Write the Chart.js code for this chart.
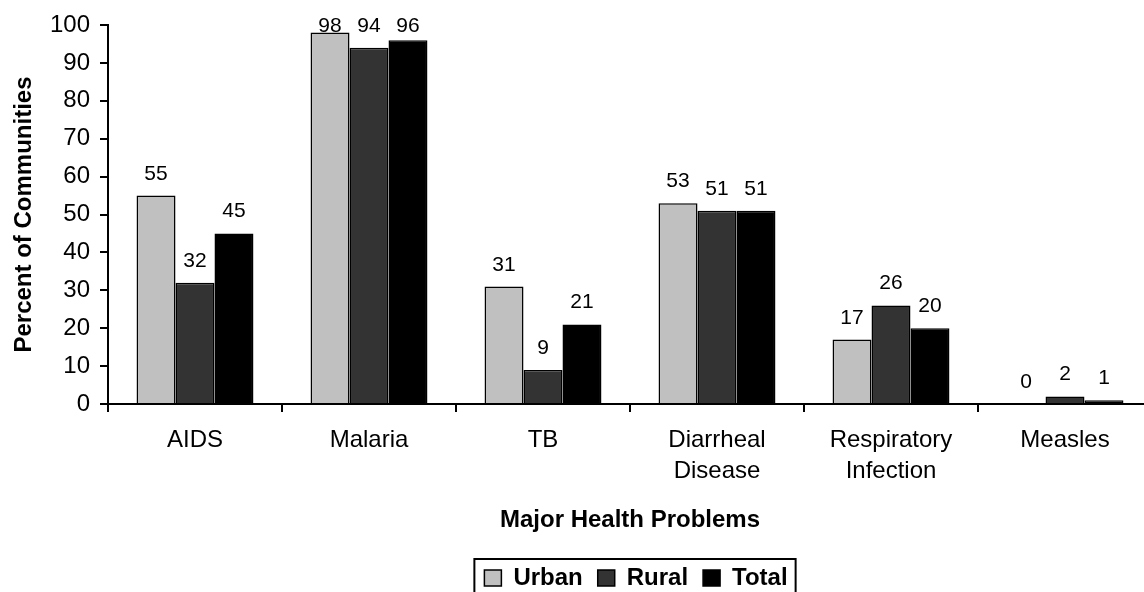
<!DOCTYPE html>
<html>
<head>
<meta charset="utf-8">
<script src="https://cdn.jsdelivr.net/npm/chart.js@4"></script>
<style>
  html, body { margin: 0; padding: 0; background: #fff; overflow: hidden; }
  /* the original plot runs a little past the right edge of the picture */
  #wrap { width: 1152px; height: 592px; }
</style>
</head>
<body>
<div id="wrap"><canvas id="chart"></canvas></div>
<script>
const categories = ["AIDS", "Malaria", "TB", ["Diarrheal", "Disease"], ["Respiratory", "Infection"], "Measles"];
const urban = [55, 98, 31, 53, 17, 0];
const rural = [32, 94, 9, 51, 26, 2];
const total = [45, 96, 21, 51, 20, 1];
const yTicks = [0, 10, 20, 30, 40, 50, 60, 70, 80, 90, 100];

const FONT = "'Liberation Sans', Arial, sans-serif";

// value labels above each bar (kept below the top of the plot like the original)
const barLabels = {
  id: "barLabels",
  afterDatasetsDraw(chart) {
    const ctx = chart.ctx;
    ctx.save();
    ctx.font = "21px " + FONT;
    ctx.fillStyle = "#000";
    ctx.textAlign = "center";
    ctx.textBaseline = "alphabetic";
    chart.data.datasets.forEach((ds, i) => {
      chart.getDatasetMeta(i).data.forEach((bar, j) => {
        ctx.fillText(ds.data[j], bar.x, Math.max(bar.y - 16, 32));
      });
    });
    ctx.restore();
  }
};

// legend sits a bit right of centre in the original, and has a frame
const legendFrame = {
  id: "legendFrame",
  afterLayout(chart) {
    const lg = chart.legend;
    lg.left += 60;
    lg.right += 60;
  },
  afterDraw(chart) {
    const boxes = chart.legend.legendHitBoxes;
    if (!boxes || !boxes.length) return;
    const left = Math.min(...boxes.map(b => b.left)) - 10;
    const right = Math.max(...boxes.map(b => b.left + b.width)) + 8;
    const top = Math.min(...boxes.map(b => b.top)) - 7;
    const bottom = Math.max(...boxes.map(b => b.top + b.height)) + 8;
    const ctx = chart.ctx;
    ctx.save();
    ctx.strokeStyle = "#000";
    ctx.lineWidth = 2;
    ctx.strokeRect(left, top, right - left, bottom - top);
    ctx.restore();
  }
};

new Chart(document.getElementById("chart").getContext("2d"), {
  type: "bar",
  data: {
    labels: categories,
    datasets: [
      { label: "Urban", data: urban, backgroundColor: "#c0c0c0" },
      { label: "Rural", data: rural, backgroundColor: "#333333" },
      { label: "Total", data: total, backgroundColor: "#000000" }
    ].map(d => Object.assign(d, {
      borderColor: "#000",
      borderWidth: 1.5,
      borderSkipped: "bottom",
      categoryPercentage: 0.672,
      barPercentage: 1.0
    }))
  },
  options: {
    responsive: true,
    maintainAspectRatio: false,
    animation: false,
    layout: { padding: { top: 25, right: 0, bottom: -8, left: 0 } },
    plugins: {
      tooltip: { enabled: false },
      legend: {
        position: "bottom",
        labels: {
          color: "#000",
          font: { family: FONT, size: 24, weight: "bold" },
          boxWidth: 17,
          boxHeight: 16,
          padding: 15,
          generateLabels(chart) {
            return chart.data.datasets.map((ds, i) => ({
              text: ds.label,
              fillStyle: ds.backgroundColor,
              strokeStyle: "#000",
              lineWidth: 1.5,
              datasetIndex: i
            }));
          }
        }
      }
    },
    scales: {
      x: {
        offset: true,
        grid: { display: true, drawOnChartArea: false, drawTicks: true, offset: true, tickLength: 8, color: "#000", lineWidth: 2 },
        border: { display: true, color: "#000", width: 2 },
        ticks: { color: "#000", font: { family: FONT, size: 24, lineHeight: 1.3 }, padding: 13, maxRotation: 0 },
        title: {
          display: true,
          text: "Major Health Problems",
          color: "#000",
          font: { family: FONT, size: 24, weight: "bold" },
          padding: { top: 0, bottom: 16 }
        },
        afterFit(scale) {
          scale.height = scale.chart.height + 8 - scale.chart.legend.height - 404;
        }
      },
      y: {
        min: 0,
        max: 100,
        afterBuildTicks(scale) {
          scale.ticks = yTicks.map(v => ({ value: v }));
        },
        grid: { drawOnChartArea: false, drawTicks: true, tickLength: 8, color: "#000", lineWidth: 2 },
        border: { display: true, color: "#000", width: 2 },
        ticks: { color: "#000", font: { family: FONT, size: 24 }, padding: 10 },
        title: {
          display: true,
          text: "Percent of Communities",
          color: "#000",
          font: { family: FONT, size: 24, weight: "bold" },
          padding: { top: 10, bottom: 0 }
        },
        afterFit(scale) {
          scale.width = 108;
        }
      }
    }
  },
  plugins: [barLabels, legendFrame]
});
</script>
</body>
</html>
